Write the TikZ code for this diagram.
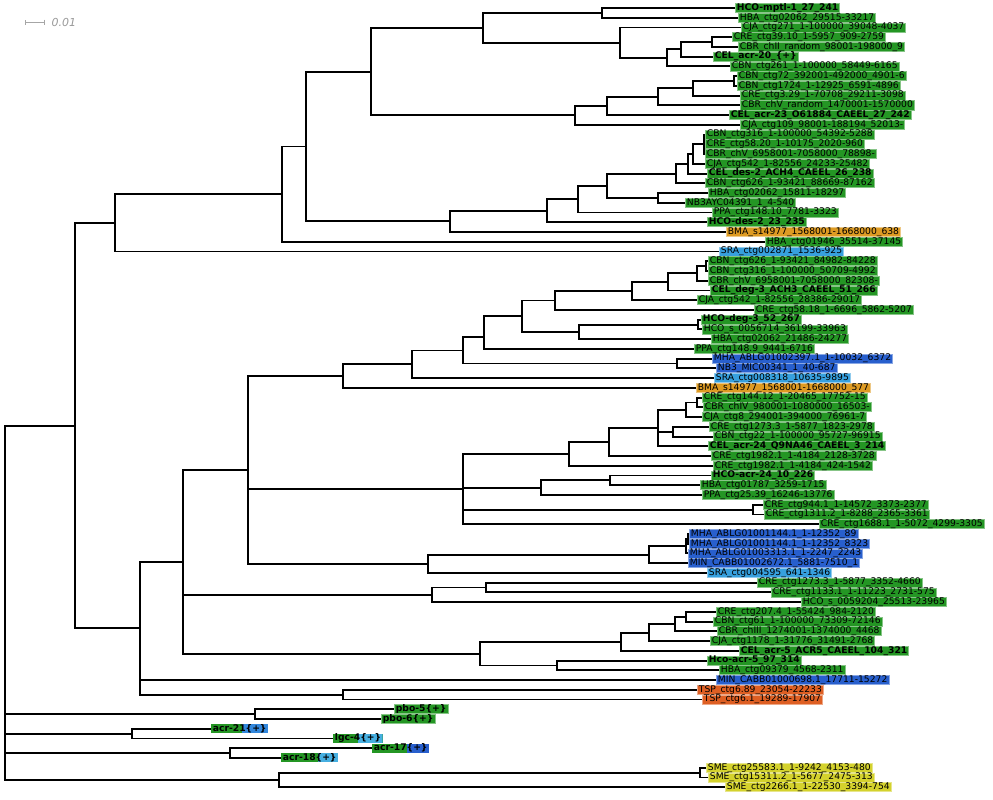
\documentclass[tikz,border=0pt]{standalone}
\usepackage{fontspec}
\setmainfont{DejaVu Sans}
\usetikzlibrary{arrows.meta}
\definecolor{leafgreen}{RGB}{36,150,36}
\definecolor{leafblue}{RGB}{40,95,205}
\definecolor{leafsky}{RGB}{55,160,222}
\definecolor{leaforange}{RGB}{222,155,35}
\definecolor{leafred}{RGB}{222,95,35}
\definecolor{leafyellow}{RGB}{212,210,45}
\definecolor{plusblue}{RGB}{50,135,220}
\definecolor{pluscyan}{RGB}{70,175,225}

\begin{document}
\begin{tikzpicture}[x=1pt, y=-9.74pt]

    \tikzstyle{leaf} = [anchor=west, inner xsep=1.5pt, inner ysep=0pt, text height=6.8pt, text depth=2.2pt, font=\fontsize{9.2}{10}\selectfont, line width=0.8pt];
    \tikzstyle{strong} = [font=\fontsize{9.2}{10}\selectfont\bfseries];
    \tikzstyle{gr} = [leaf, fill=leafgreen, draw=leafgreen!55];
    \tikzstyle{bl} = [leaf, fill=leafblue, draw=leafblue!55];
    \tikzstyle{sk} = [leaf, fill=leafsky, draw=leafsky!55];
    \tikzstyle{og} = [leaf, fill=leaforange, draw=leaforange!55];
    \tikzstyle{rd} = [leaf, fill=leafred, draw=leafred!55];
    \tikzstyle{ye} = [leaf, fill=leafyellow, draw=leafyellow!55];
    \tikzstyle{branch} = [line width=1.9pt, black];
    \tikzstyle{scalebar} = [gray!70, line width=0.8pt, {Bar[width=5pt]}-{Bar[width=5pt]}];
    \tikzset{duo/.style 2 args={leaf, strong, fill=leafgreen, path picture={\fill[#1] ([xshift=#2]path picture bounding box.south west) rectangle (path picture bounding box.north east);}}}

    \useasboundingbox (0,0.1786) rectangle (993,82.3142);

    % scale
    \draw[scalebar] (25,2.44) -- (45,2.44);
    \node[anchor=west, text=gray!80, font=\fontsize{11}{12}\selectfont\itshape] (scale) at (48,2.44) {0.01};

    % leaves
    \node[gr, strong] (1) at (735,1) {HCO-mptl-1\_27\_241};
    \node[gr] (2) at (738,2) {HBA\_ctg02062\_29515-33217};
    \node[gr] (3) at (741,3) {CJA\_ctg271\_1-100000\_39048-4037};
    \node[gr] (4) at (732,4) {CRE\_ctg39.10\_1-5957\_909-2759};
    \node[gr] (5) at (738,5) {CBR\_chII\_random\_98001-198000\_9};
    \node[gr, strong] (6) at (713,6) {CEL\_acr-20\_\{+\}};
    \node[gr] (7) at (730,7) {CBN\_ctg261\_1-100000\_58449-6165};
    \node[gr] (8) at (737,8) {CBN\_ctg72\_392001-492000\_4901-6};
    \node[gr] (9) at (737,9) {CBN\_ctg1724\_1-12925\_6591-4896};
    \node[gr] (10) at (740,10) {CRE\_ctg3.29\_1-70708\_29211-3098};
    \node[gr] (11) at (740,11) {CBR\_chV\_random\_1470001-1570000};
    \node[gr, strong] (12) at (729,12) {CEL\_acr-23\_O61884\_CAEEL\_27\_242};
    \node[gr] (13) at (740,13) {CJA\_ctg109\_98001-188194\_52013-};
    \node[gr] (14) at (705,14) {CBN\_ctg316\_1-100000\_54392-5288};
    \node[gr] (15) at (705,15) {CRE\_ctg58.20\_1-10175\_2020-960};
    \node[gr] (16) at (705,16) {CBR\_chV\_6958001-7058000\_78898-};
    \node[gr] (17) at (705,17) {CJA\_ctg542\_1-82556\_24233-25482};
    \node[gr, strong] (18) at (707,18) {CEL\_des-2\_ACH4\_CAEEL\_26\_238};
    \node[gr] (19) at (705,19) {CBN\_ctg626\_1-93421\_88669-87162};
    \node[gr] (20) at (708,20) {HBA\_ctg02062\_15811-18297};
    \node[gr] (21) at (685,21) {NB3AYC04391\_1\_4-540};
    \node[gr] (22) at (712,22) {PPA\_ctg148.10\_7781-3323};
    \node[gr, strong] (23) at (707,23) {HCO-des-2\_23\_235};
    \node[og] (24) at (726,24) {BMA\_s14977\_1568001-1668000\_638};
    \node[gr] (25) at (765,25) {HBA\_ctg01946\_35514-37145};
    \node[sk] (26) at (719,26) {SRA\_ctg002871\_1536-925};
    \node[gr] (27) at (708,27) {CBN\_ctg626\_1-93421\_84982-84228};
    \node[gr] (28) at (708,28) {CBN\_ctg316\_1-100000\_50709-4992};
    \node[gr] (29) at (708,29) {CBR\_chV\_6958001-7058000\_82308-};
    \node[gr, strong] (30) at (710,30) {CEL\_deg-3\_ACH3\_CAEEL\_51\_266};
    \node[gr] (31) at (697,31) {CJA\_ctg542\_1-82556\_28386-29017};
    \node[gr] (32) at (754,32) {CRE\_ctg58.18\_1-6696\_5862-5207};
    \node[gr, strong] (33) at (701,33) {HCO-deg-3\_52\_267};
    \node[gr] (34) at (702,34) {HCO\_s\_0056714\_36199-33963};
    \node[gr] (35) at (711,35) {HBA\_ctg02062\_21486-24277};
    \node[gr] (36) at (694,36) {PPA\_ctg148.9\_9441-6716};
    \node[bl] (37) at (712,37) {MHA\_ABLG01002397.1\_1-10032\_6372};
    \node[bl] (38) at (716,38) {NB3\_MIC00341\_1\_40-687};
    \node[sk] (39) at (714,39) {SRA\_ctg008318\_10635-9895};
    \node[og] (40) at (696,40) {BMA\_s14977\_1568001-1668000\_577};
    \node[gr] (41) at (702,41) {CRE\_ctg144.12\_1-20465\_17752-15};
    \node[gr] (42) at (703,42) {CBR\_chIV\_980001-1080000\_16503-};
    \node[gr] (43) at (702,43) {CJA\_ctg8\_294001-394000\_76961-7};
    \node[gr] (44) at (709,44) {CRE\_ctg1273.3\_1-5877\_1823-2978};
    \node[gr] (45) at (713,45) {CBN\_ctg22\_1-100000\_95727-96915};
    \node[gr, strong] (46) at (708,46) {CEL\_acr-24\_Q9NA46\_CAEEL\_3\_214};
    \node[gr] (47) at (711,47) {CRE\_ctg1982.1\_1-4184\_2128-3728};
    \node[gr] (48) at (713,48) {CRE\_ctg1982.1\_1-4184\_424-1542};
    \node[gr, strong] (49) at (711,49) {HCO-acr-24\_10\_226};
    \node[gr] (50) at (700,50) {HBA\_ctg01787\_3259-1715};
    \node[gr] (51) at (702,51) {PPA\_ctg25.39\_16246-13776};
    \node[gr] (52) at (763,52) {CRE\_ctg944.1\_1-14572\_3373-2377};
    \node[gr] (53) at (764,53) {CRE\_ctg1311.2\_1-8288\_2365-3361};
    \node[gr] (54) at (819,54) {CRE\_ctg1688.1\_1-5072\_4299-3305};
    \node[bl] (55) at (689,55) {MHA\_ABLG01001144.1\_1-12352\_89};
    \node[bl] (56) at (689,56) {MHA\_ABLG01001144.1\_1-12352\_8323};
    \node[bl] (57) at (688,57) {MHA\_ABLG01003313.1\_1-2247\_2243};
    \node[bl] (58) at (688,58) {MIN\_CABB01002672.1\_5881-7510\_1};
    \node[sk] (59) at (707,59) {SRA\_ctg004595\_641-1346};
    \node[gr] (60) at (757,60) {CRE\_ctg1273.3\_1-5877\_3352-4660};
    \node[gr] (61) at (771,61) {CRE\_ctg1133.1\_1-11223\_2731-575};
    \node[gr] (62) at (801,62) {HCO\_s\_0059204\_25513-23965};
    \node[gr] (63) at (716,63) {CRE\_ctg207.4\_1-55424\_984-2120};
    \node[gr] (64) at (713,64) {CBN\_ctg61\_1-100000\_73309-72146};
    \node[gr] (65) at (717,65) {CBR\_chIII\_1274001-1374000\_4468};
    \node[gr] (66) at (710,66) {CJA\_ctg1178\_1-31776\_31491-2768};
    \node[gr, strong] (67) at (739,67) {CEL\_acr-5\_ACR5\_CAEEL\_104\_321};
    \node[gr, strong] (68) at (707,68) {Hco-acr-5\_97\_314};
    \node[gr] (69) at (719,69) {HBA\_ctg09379\_4568-2311};
    \node[bl] (70) at (716,70) {MIN\_CABB01000698.1\_17711-15272};
    \node[rd] (71) at (697,71) {TSP\_ctg6.89\_23054-22233};
    \node[rd] (72) at (702,72) {TSP\_ctg6.1\_19289-17907};
    \node[gr, strong] (73) at (394,73) {pbo-5\{+\}};
    \node[gr, strong] (74) at (381,74) {pbo-6\{+\}};
    \node[duo={plusblue}{31pt}] (75) at (211,75) {acr-21\{+\}};
    \node[duo={pluscyan}{25pt}] (76) at (333,76) {lgc-4\{+\}};
    \node[duo={leafblue}{35pt}] (77) at (372,77) {acr-17\{+\}};
    \node[duo={pluscyan}{37pt}] (78) at (281,78) {acr-18\{+\}};
    \node[ye] (79) at (706,79) {SME\_ctg25583.1\_1-9242\_4153-480};
    \node[ye] (80) at (708,80) {SME\_ctg15311.2\_1-5677\_2475-313};
    \node[ye] (81) at (725,81) {SME\_ctg2266.1\_1-22530\_3394-754};

    % inner nodes
    \coordinate (a1) at (602,1.5);
    \coordinate (a2) at (712,4.5);
    \coordinate (a3) at (681,5.25);
    \coordinate (a4) at (667,6.125);
    \coordinate (a5) at (620,4.5625);
    \coordinate (a6) at (483,3.03125);
    \coordinate (b1) at (734,8.5);
    \coordinate (b2) at (693,9.25);
    \coordinate (b3) at (658,10.125);
    \coordinate (b4) at (607,11.0625);
    \coordinate (b5) at (575,12.03125);
    \coordinate (a7) at (371,7.53125);
    \coordinate (c1) at (704,15);
    \coordinate (c2) at (693,16);
    \coordinate (c3) at (688,17);
    \coordinate (c4) at (676,18);
    \coordinate (c5) at (658,20.5);
    \coordinate (c6) at (607,19.25);
    \coordinate (c7) at (578,20.625);
    \coordinate (c8) at (547,21.8125);
    \coordinate (c9) at (450,22.90625);
    \coordinate (a8) at (306,15.21875);
    \coordinate (a9) at (282,20.109);
    \coordinate (a10) at (115,23.055);
    \coordinate (d1) at (706,27.5);
    \coordinate (d2) at (697,28.25);
    \coordinate (d3) at (668,29.125);
    \coordinate (d4) at (632,30.0625);
    \coordinate (d5) at (555,31.03125);
    \coordinate (d6) at (698,33.5);
    \coordinate (d7) at (579,34.25);
    \coordinate (d8) at (522,32.6406);
    \coordinate (d9) at (484,34.8203);
    \coordinate (d10) at (677,37.5);
    \coordinate (d11) at (463,36.1602);
    \coordinate (d12) at (412,37.5801);
    \coordinate (d13) at (343,38.79);
    \coordinate (e1) at (697,41.5);
    \coordinate (e2) at (686,42.25);
    \coordinate (e3) at (673,44.5);
    \coordinate (e4) at (658,44.125);
    \coordinate (e5) at (609,45.5625);
    \coordinate (e6) at (569,46.78125);
    \coordinate (e7) at (610,49.5);
    \coordinate (e8) at (541,50.25);
    \coordinate (e9) at (753,52.5);
    \coordinate (e10) at (463,50.3906);
    \coordinate (f1) at (688,55.5);
    \coordinate (f2) at (686,56.25);
    \coordinate (f3) at (649,57.125);
    \coordinate (f4) at (428,58.0625);
    \coordinate (g1) at (486,60.5);
    \coordinate (g2) at (432,61.25);
    \coordinate (h1) at (686,63.5);
    \coordinate (h2) at (675,64.25);
    \coordinate (h3) at (649,65.125);
    \coordinate (h4) at (621,66.0625);
    \coordinate (h5) at (557,68.5);
    \coordinate (h6) at (480,67.28125);
    \coordinate (k1) at (343,71.5);
    \coordinate (m1) at (248,48.43);
    \coordinate (m2) at (183,57.855);
    \coordinate (m3) at (140,64.68);
    \coordinate (m4) at (75,43.87);
    \coordinate (p1) at (255,73.5);
    \coordinate (p2) at (132,75.5);
    \coordinate (p3) at (230,77.5);
    \coordinate (s1) at (700,79.5);
    \coordinate (s2) at (279,80.25);
    \coordinate (root) at (5,62.06);

    % branches
    \draw[branch] (a1) |- (1.west) (a1) |- (2.west);
    \draw[branch] (a2) |- (4.west) (a2) |- (5.west);
    \draw[branch] (a3) |- (a2) (a3) |- (6.west);
    \draw[branch] (a4) |- (a3) (a4) |- (7.west);
    \draw[branch] (a5) |- (3.west) (a5) |- (a4);
    \draw[branch] (a6) |- (a1) (a6) |- (a5);
    \draw[branch] (b1) |- (8.west) (b1) |- (9.west);
    \draw[branch] (b2) |- (b1) (b2) |- (10.west);
    \draw[branch] (b3) |- (b2) (b3) |- (11.west);
    \draw[branch] (b4) |- (b3) (b4) |- (12.west);
    \draw[branch] (b5) |- (b4) (b5) |- (13.west);
    \draw[branch] (a7) |- (a6) (a7) |- (b5);
    \draw[branch] (c1) |- (14.west) (c1) |- (15.west) (c1) |- (16.west);
    \draw[branch] (c2) |- (c1) (c2) |- (17.west);
    \draw[branch] (c3) |- (c2) (c3) |- (18.west);
    \draw[branch] (c4) |- (c3) (c4) |- (19.west);
    \draw[branch] (c5) |- (20.west) (c5) |- (21.west);
    \draw[branch] (c6) |- (c4) (c6) |- (c5);
    \draw[branch] (c7) |- (c6) (c7) |- (22.west);
    \draw[branch] (c8) |- (c7) (c8) |- (23.west);
    \draw[branch] (c9) |- (c8) (c9) |- (24.west);
    \draw[branch] (a8) |- (a7) (a8) |- (c9);
    \draw[branch] (a9) |- (a8) (a9) |- (25.west);
    \draw[branch] (a10) |- (a9) (a10) |- (26.west);
    \draw[branch] (d1) |- (27.west) (d1) |- (28.west);
    \draw[branch] (d2) |- (d1) (d2) |- (29.west);
    \draw[branch] (d3) |- (d2) (d3) |- (30.west);
    \draw[branch] (d4) |- (d3) (d4) |- (31.west);
    \draw[branch] (d5) |- (d4) (d5) |- (32.west);
    \draw[branch] (d6) |- (33.west) (d6) |- (34.west);
    \draw[branch] (d7) |- (d6) (d7) |- (35.west);
    \draw[branch] (d8) |- (d5) (d8) |- (d7);
    \draw[branch] (d9) |- (d8) (d9) |- (36.west);
    \draw[branch] (d10) |- (37.west) (d10) |- (38.west);
    \draw[branch] (d11) |- (d9) (d11) |- (d10);
    \draw[branch] (d12) |- (d11) (d12) |- (39.west);
    \draw[branch] (d13) |- (d12) (d13) |- (40.west);
    \draw[branch] (e1) |- (41.west) (e1) |- (42.west);
    \draw[branch] (e2) |- (e1) (e2) |- (43.west);
    \draw[branch] (e3) |- (44.west) (e3) |- (45.west);
    \draw[branch] (e4) |- (e2) (e4) |- (e3) (e4) |- (46.west);
    \draw[branch] (e5) |- (e4) (e5) |- (47.west);
    \draw[branch] (e6) |- (e5) (e6) |- (48.west);
    \draw[branch] (e7) |- (49.west) (e7) |- (50.west);
    \draw[branch] (e8) |- (e7) (e8) |- (51.west);
    \draw[branch] (e9) |- (52.west) (e9) |- (53.west);
    \draw[branch] (e10) |- (e6) (e10) |- (e8) (e10) |- (e9) (e10) |- (54.west);
    \draw[branch] (f1) |- (55.west) (f1) |- (56.west);
    \draw[branch] (f2) |- (f1) (f2) |- (57.west);
    \draw[branch] (f3) |- (f2) (f3) |- (58.west);
    \draw[branch] (f4) |- (f3) (f4) |- (59.west);
    \draw[branch] (g1) |- (60.west) (g1) |- (61.west);
    \draw[branch] (g2) |- (g1) (g2) |- (62.west);
    \draw[branch] (h1) |- (63.west) (h1) |- (64.west);
    \draw[branch] (h2) |- (h1) (h2) |- (65.west);
    \draw[branch] (h3) |- (h2) (h3) |- (66.west);
    \draw[branch] (h4) |- (h3) (h4) |- (67.west);
    \draw[branch] (h5) |- (68.west) (h5) |- (69.west);
    \draw[branch] (h6) |- (h4) (h6) |- (h5);
    \draw[branch] (k1) |- (71.west) (k1) |- (72.west);
    \draw[branch] (m1) |- (d13) (m1) |- (e10) (m1) |- (f4);
    \draw[branch] (m2) |- (m1) (m2) |- (g2) (m2) |- (h6);
    \draw[branch] (m3) |- (m2) (m3) |- (70.west) (m3) |- (k1);
    \draw[branch] (m4) |- (a10) (m4) |- (m3);
    \draw[branch] (p1) |- (73.west) (p1) |- (74.west);
    \draw[branch] (p2) |- (75.west) (p2) |- (76.west);
    \draw[branch] (p3) |- (77.west) (p3) |- (78.west);
    \draw[branch] (s1) |- (79.west) (s1) |- (80.west);
    \draw[branch] (s2) |- (s1) (s2) |- (81.west);
    \draw[branch] (root) |- (m4) (root) |- (p1) (root) |- (p2) (root) |- (p3) (root) |- (s2);

\end{tikzpicture}
\end{document}
